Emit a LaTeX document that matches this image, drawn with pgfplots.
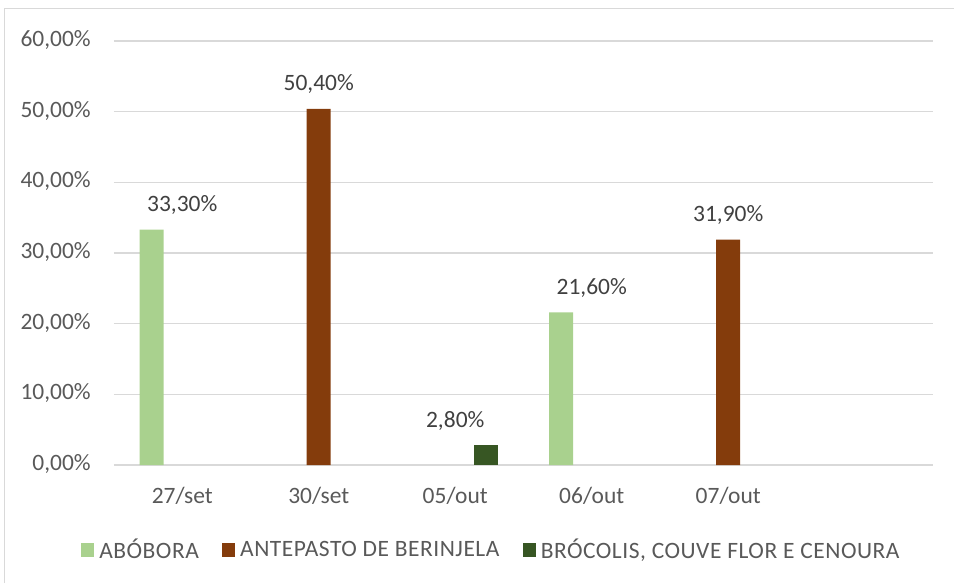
\documentclass[border=0pt]{standalone}
\usepackage{pgfplots}
\pgfplotsset{compat=1.18}
\usepackage{fontspec}
\setmainfont{Carlito}
\newfontfamily\legfont[LetterSpace=2.2]{Carlito}
\definecolor{cA}{HTML}{A9D18E}
\definecolor{cB}{HTML}{843C0C}
\definecolor{cC}{HTML}{375623}
\definecolor{txt}{HTML}{595959}
\definecolor{lbl}{HTML}{404040}
\definecolor{grd}{HTML}{D9D9D9}
\newcommand{\chfont}{\fontsize{17.6}{21}\selectfont}
\begin{document}
\begin{tikzpicture}
\useasboundingbox (-85.5pt,-88.5pt) rectangle (630pt,348.75pt);
\draw[grd, line width=0.75pt] (-81.75pt,-88.5pt) -- (-81.75pt,342pt) -- (630pt,342pt);
\begin{axis}[
  at={(0,0)}, anchor=south west,
  scale only axis, width=614.25pt, height=318pt,
  xmin=-0.5, xmax=5.5, ymin=0, ymax=60,
  axis line style={draw=none},
  ymajorgrids, grid style={grd, line width=1.2pt},
  major tick length=0pt,
  ytick={0,10,20,30,40,50,60},
  yticklabels={{0,00\%},{10,00\%},{20,00\%},{30,00\%},{40,00\%},{50,00\%},{60,00\%}},
  xtick={0,1,2,3,4},
  xticklabels={27/set,30/set,05/out,06/out,07/out},
  tick label style={text=txt, inner sep=0pt, font=\chfont},
  yticklabel style={anchor=base east, xshift=-17.25pt, yshift=-4.1pt},
  xticklabel style={anchor=base, yshift=-28.5pt},
  /pgf/number format/assume math mode=true,
  nodes near coords={\pgfmathprintnumber[fixed, fixed zerofill, precision=2, use comma]{\pgfplotspointmeta}\%},
  every node near coord/.append style={text=lbl, inner sep=0pt, yshift=11pt, font=\chfont},
  legend columns=3,
  legend cell align=left,
  legend style={at={(-0.0403,-0.2005)}, anchor=west, draw=none, fill=none, inner sep=0pt,
    nodes={inner sep=0pt, text=txt, font=\legfont\chfont},
    /tikz/every odd column/.append style={column sep=3.75pt},
    /tikz/every even column/.append style={column sep=17.5pt}},
]
\addplot[ybar, bar width=18pt, bar shift=-22.9pt, fill=cA, draw=none,
  legend image code/.code={\fill[cA] (0pt,-4.9pt) rectangle (9.75pt,4.9pt);}]
  coordinates {(0,33.3) (3,21.6)};
\addlegendentry{ABÓBORA}
\addplot[ybar, bar width=18pt, bar shift=0pt, fill=cB, draw=none,
  legend image code/.code={\fill[cB] (0pt,-4.9pt) rectangle (9.75pt,4.9pt);}]
  coordinates {(1,50.4) (4,31.9)};
\addlegendentry{ANTEPASTO DE BERINJELA}
\addplot[ybar, bar width=18pt, bar shift=22.9pt, fill=cC, draw=none,
  legend image code/.code={\fill[cC] (0pt,-4.9pt) rectangle (9.75pt,4.9pt);}]
  coordinates {(2,2.8)};
\addlegendentry{BRÓCOLIS, COUVE FLOR E CENOURA}
\end{axis}
\end{tikzpicture}
\end{document}
